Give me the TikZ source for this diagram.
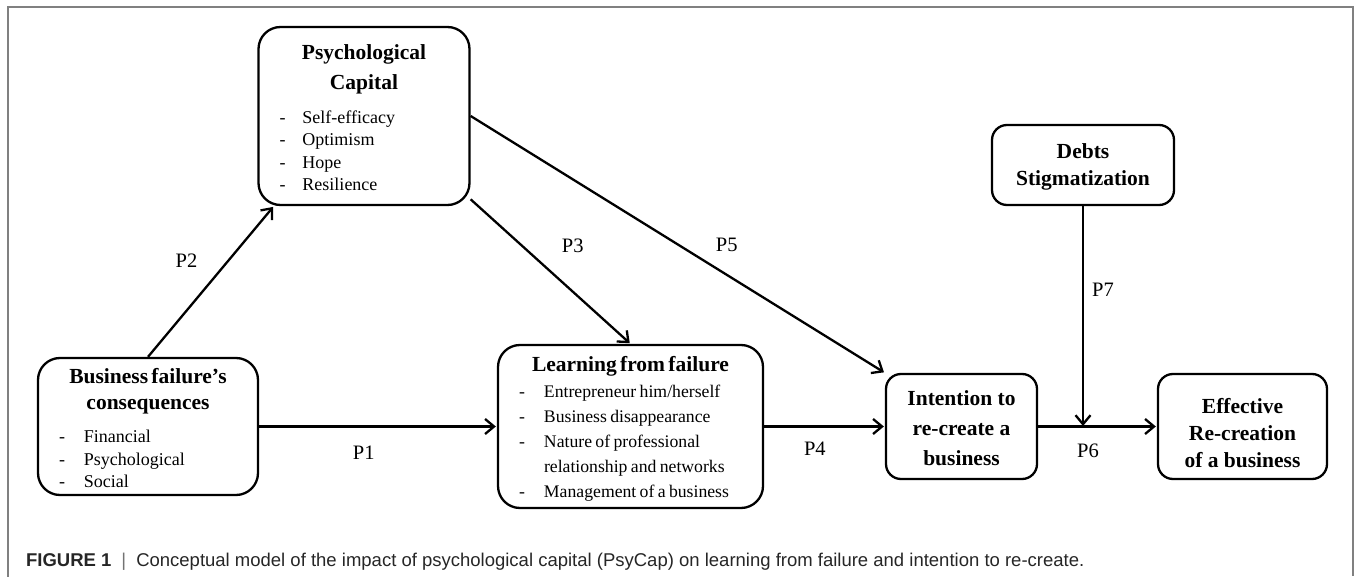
\documentclass[tikz,border=0pt]{standalone}
\usepackage{fontspec}
\setmainfont{Liberation Serif}
\newfontfamily\capfont{Liberation Sans}
\usetikzlibrary{arrows.meta}

\newcommand{\ttlfont}{\fontsize{21.5}{27}\selectfont\bfseries}
\newcommand{\itmfont}{\fontsize{18}{22.3}\selectfont}
\newcommand{\hd}[1]{\multicolumn{2}{c}{\ttlfont #1}}
\newcommand{\topgap}{\rule{0pt}{25pt}}

\begin{document}
\begin{tikzpicture}[x=1pt,y=-1pt,->,>={Straight Barb[length=9pt,width=15pt]},shorten >=1pt,auto,
                    line width=2.3pt,
                    main node/.style={draw,rounded corners=22pt,inner sep=0pt,align=center},
                    small node/.style={main node,rounded corners=15pt},
                    p label/.style={font=\fontsize{20.5}{24}\selectfont,inner sep=0pt}]

\useasboundingbox (0,0) rectangle (1357,577);
\draw[-,line width=1.5pt,black!50] (8,577) -- (8,7) -- (1353,7) -- (1353,577);

\node[main node,minimum width=211pt,minimum height=178pt,text width=169pt] (pc) at (364,116)
  {\itmfont\begin{tabular}{@{}p{23pt}@{}p{146pt}@{}}
   \hd{\topgap Psychological}\\[7pt]
   \hd{Capital}\\[12pt]
   -&Self-efficacy\\ -&Optimism\\ -&Hope\\ -&Resilience
   \end{tabular}};
\node[main node,minimum width=220pt,minimum height=137pt,text width=178pt] (bfc) at (148,426.5)
  {\fontsize{18}{22.5}\selectfont\begin{tabular}{@{}p{25pt}@{}p{153pt}@{}}
   \hd{\topgap Business failure's}\\[3.5pt]
   \hd{consequences}\\[11pt]
   -&Financial\\ -&Psychological\\ -&Social
   \end{tabular}};
\node[main node,minimum width=265pt,minimum height=163pt,text width=223pt] (lff) at (630.5,426.5)
  {\fontsize{17.7}{25}\selectfont\begin{tabular}{@{}p{25pt}@{}p{198pt}@{}}
   \hd{\rule{0pt}{24pt}Learning from failure}\\[1pt]
   -&Entrepreneur him/herself\\ -&Business disappearance\\
   -&Nature of professional\\ &relationship and networks\\
   -&Management of a business
   \end{tabular}};
\node[small node,minimum width=151pt,minimum height=105pt,font=\fontsize{21.5}{30}\selectfont\bfseries] (int) at (961.5,426.5)
  {\rule{0pt}{19pt}Intention to\\re-create a\\business};
\node[small node,minimum width=169pt,minimum height=105pt,font=\ttlfont] (eff) at (1242.5,426.5)
  {\rule{0pt}{29pt}Effective\\Re-creation\\of a business};
\node[small node,minimum width=182pt,minimum height=80pt,font=\ttlfont] (debts) at (1083,165)
  {\rule{0pt}{19pt}Debts\\Stigmatization};
\coordinate (mid) at (1083,427);

\path[every node/.style={p label}]
(bfc) edge node[pos=.44,below=18pt] {P1} (lff)
(bfc.north) edge node[pos=.64,left=30pt] {P2} (pc.225)
(pc.-38) edge node[pos=.32,right=39pt] {P3} (lff.north)
(lff) edge node[pos=.42,below=14pt] {P4} (int)
(pc.east) edge node[pos=.5,right=37pt] {P5} (int.north west)
(int) edge node[pos=.42,below=16pt] {P6} (eff)
(debts) edge node[pos=.38,right=8pt] {P7} (mid);

\node[anchor=base west,inner sep=0pt,text=black!85,font=\capfont\fontsize{18.5}{20}\selectfont] (caption) at (25,566)
  {\textbf{FIGURE 1}\hspace{10pt}{\color{black!55}|}\hspace{10pt}Conceptual model of the impact of psychological capital (PsyCap) on learning from failure and intention to re-create.};
\end{tikzpicture}
\end{document}
